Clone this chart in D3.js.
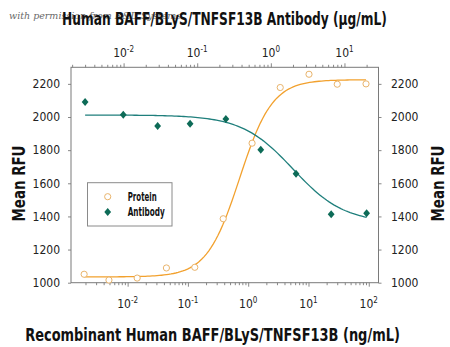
<!DOCTYPE html>
<html>
<head>
<meta charset="utf-8">
<script src="https://cdn.jsdelivr.net/npm/d3@7/dist/d3.min.js"></script>
<style>
  html, body { margin: 0; padding: 0; background: #fff; }
  svg { display: block; }
  .cond { font-family: "DejaVu Sans Condensed", "Liberation Sans Narrow", sans-serif; }
</style>
</head>
<body>
<svg id="chart" width="450" height="347"></svg>
<script>
// Protein: recombinant BAFF concentration (ng/mL, bottom axis) vs mean RFU
const proteinConc = [0.0019, 0.0049, 0.0144, 0.044, 0.13, 0.385, 1.16, 3.4, 10.2, 30, 90];
const proteinRFU  = [1051, 1016, 1028, 1089, 1093, 1386, 1842, 2178, 2258, 2198, 2200];

// Antibody: neutralizing antibody concentration (ug/mL, top axis) vs mean RFU
const antibodyConc = [0.003, 0.0099, 0.029, 0.08, 0.245, 0.73, 2.2, 6.6, 20];
const antibodyRFU  = [2091, 2013, 1946, 1960, 1988, 1803, 1658, 1413, 1419];

// Four-parameter logistic fits: [bottom, top, EC50, hill]
const proteinFit  = [1035, 2225, 0.72, 1.6];
const antibodyFit = [1360, 2012, 2.0, 1.25];

// Axis ticks
const yTicks = [1000, 1200, 1400, 1600, 1800, 2000, 2200];
const bottomMajor = [0.01, 0.1, 1, 10, 100];
const bottomExp   = ["-2", "-1", "0", "1", "2"];
const topMajor = [0.01, 0.1, 1, 10];
const topExp   = ["-2", "-1", "0", "1"];

const legendLabels = ["Protein", "Antibody"];

const colors = {
  proteinLine: "#f2a12e",
  proteinMark: "#e9b46c",
  antibodyLine: "#1f7f7c",
  antibodyMark: "#0d6b57",
  axis: "#7a7a7a"
};

const svg = d3.select("#chart");
const plot = { left: 71, right: 378.5, top: 67.3, bottom: 282.7 };

const xBottom = d3.scaleLog().domain([0.00115, 145]).range([plot.left, plot.right]);
const xTop    = d3.scaleLog().domain([0.00193, 29]).range([plot.left, plot.right]);
const y = d3.scaleLinear().domain([1000, 2300]).range([plot.bottom, plot.top]);

// Condensed text: draw at full height, then squeeze horizontally to a width
function narrowText(parent, str, x, y, size, width, anchor, rotate) {
  const t = parent.append("text")
    .attr("class", "cond")
    .attr("font-size", size).attr("font-weight", "bold").attr("fill", "#111")
    .attr("text-anchor", anchor || "start")
    .text(str);
  const len = t.node().getComputedTextLength();
  const s = width / len;
  t.attr("transform", `translate(${x},${y})${rotate ? ` rotate(${rotate})` : ""} scale(${s},1)`);
  return t;
}

// faint attribution text behind the top title
svg.append("text")
  .attr("x", 9).attr("y", 19)
  .attr("font-family", "DejaVu Serif, serif")
  .attr("font-style", "italic")
  .attr("font-size", 9.5)
  .attr("fill", "#6a6a6a")
  .text("with permission from R&D Systems");

// minor ticks for a log axis within its domain
function minorTicks(scale) {
  const [a, b] = scale.domain();
  const out = [];
  for (let e = Math.floor(Math.log10(a)); e <= Math.ceil(Math.log10(b)); e++) {
    for (let m = 2; m <= 9; m++) {
      const v = m * Math.pow(10, e);
      if (v >= a && v <= b) out.push(v);
    }
  }
  return out;
}

function styleAxis(g) {
  g.selectAll(".domain").remove();
  g.selectAll(".tick line").attr("stroke", colors.axis).attr("stroke-width", 0.9);
}

// frame
svg.append("rect")
  .attr("x", plot.left).attr("y", plot.top)
  .attr("width", plot.right - plot.left).attr("height", plot.bottom - plot.top)
  .attr("fill", "none").attr("stroke", colors.axis).attr("stroke-width", 1);

// bottom axis
const gb = svg.append("g").attr("transform", `translate(0,${plot.bottom})`);
gb.append("g").call(d3.axisBottom(xBottom).tickValues(minorTicks(xBottom)).tickSize(2.5).tickFormat("")).call(styleAxis);
gb.append("g").call(d3.axisBottom(xBottom).tickValues(bottomMajor).tickSize(4).tickFormat("")).call(styleAxis);

// top axis
const gt = svg.append("g").attr("transform", `translate(0,${plot.top})`);
gt.append("g").call(d3.axisTop(xTop).tickValues(minorTicks(xTop)).tickSize(2.5).tickFormat("")).call(styleAxis);
gt.append("g").call(d3.axisTop(xTop).tickValues(topMajor).tickSize(4).tickFormat("")).call(styleAxis);

// power-of-ten labels
function powLabels(values, exps, scale, yBase) {
  const t = svg.append("g").attr("class", "cond").attr("font-size", 12).attr("fill", "#222");
  values.forEach((v, i) => {
    const txt = t.append("text")
      .attr("x", scale(v)).attr("y", yBase)
      .attr("text-anchor", "middle");
    txt.append("tspan").text("10");
    txt.append("tspan").attr("font-size", 8).attr("dy", -4.5).text(exps[i]);
  });
}
powLabels(bottomMajor, bottomExp, xBottom, 307.5);
powLabels(topMajor, topExp, xTop, 56.5);

// left and right y axes
const gl = svg.append("g").attr("transform", `translate(${plot.left},0)`)
  .call(d3.axisLeft(y).tickValues(yTicks).tickSize(3).tickPadding(8).tickFormat(d3.format("d")));
styleAxis(gl);
gl.selectAll("text").attr("class", "cond").attr("font-size", 12).attr("fill", "#222").attr("font-family", null);

const gr = svg.append("g").attr("transform", `translate(${plot.right},0)`)
  .call(d3.axisRight(y).tickValues(yTicks).tickSize(3).tickPadding(9.5).tickFormat(d3.format("d")));
styleAxis(gr);
gr.selectAll("text").attr("class", "cond").attr("font-size", 12).attr("fill", "#222").attr("font-family", null);

// fitted curves
function logistic(p, x, rising) {
  const [b, t, ec, h] = p;
  return rising ? b + (t - b) / (1 + Math.pow(ec / x, h))
                : b + (t - b) / (1 + Math.pow(x / ec, h));
}
function curvePoints(p, xs, rising) {
  const lo = Math.log10(d3.min(xs)), hi = Math.log10(d3.max(xs));
  return d3.range(0, 121).map(i => {
    const x = Math.pow(10, lo + (hi - lo) * i / 120);
    return [x, logistic(p, x, rising)];
  });
}

svg.append("path")
  .datum(curvePoints(proteinFit, proteinConc, true))
  .attr("fill", "none").attr("stroke", colors.proteinLine).attr("stroke-width", 1.3)
  .attr("d", d3.line().x(d => xBottom(d[0])).y(d => y(d[1])));

svg.append("path")
  .datum(curvePoints(antibodyFit, antibodyConc, false))
  .attr("fill", "none").attr("stroke", colors.antibodyLine).attr("stroke-width", 1.3)
  .attr("d", d3.line().x(d => xTop(d[0])).y(d => y(d[1])));

// markers
const diamond = "M0,-4L3.4,0L0,4L-3.4,0Z";

svg.append("g").selectAll("circle")
  .data(d3.zip(proteinConc, proteinRFU))
  .join("circle")
  .attr("cx", d => xBottom(d[0])).attr("cy", d => y(d[1]))
  .attr("r", 3.1).attr("fill", "#fff")
  .attr("stroke", colors.proteinMark).attr("stroke-width", 1);

svg.append("g").selectAll("path")
  .data(d3.zip(antibodyConc, antibodyRFU))
  .join("path")
  .attr("transform", d => `translate(${xTop(d[0])},${y(d[1])})`)
  .attr("d", diamond).attr("fill", colors.antibodyMark);

// legend
const lg = svg.append("g");
lg.append("rect")
  .attr("x", 87.5).attr("y", 182.7).attr("width", 84.5).attr("height", 43.3)
  .attr("fill", "#fff").attr("stroke", "#8a8a8a").attr("stroke-width", 1);
lg.append("circle").attr("cx", 107.7).attr("cy", 196.7).attr("r", 3.1)
  .attr("fill", "#fff").attr("stroke", colors.proteinMark).attr("stroke-width", 1);
lg.append("path").attr("transform", "translate(107.7,212)").attr("d", diamond).attr("fill", colors.antibodyMark);
narrowText(lg, legendLabels[0], 127.7, 200.8, 12, 29);
narrowText(lg, legendLabels[1], 127.7, 216.2, 12, 37);

// titles
narrowText(svg, "Human BAFF/BLyS/TNFSF13B Antibody (\u03bcg/mL)", 224.5, 24.5, 17, 325, "middle");
narrowText(svg, "Recombinant Human BAFF/BLyS/TNFSF13B (ng/mL)", 212.5, 340.5, 17, 375, "middle");
narrowText(svg, "Mean RFU", 25, 183.5, 17.5, 76, "middle", -90);
narrowText(svg, "Mean RFU", 443.5, 183.5, 17.5, 76, "middle", -90);
</script>
</body>
</html>
